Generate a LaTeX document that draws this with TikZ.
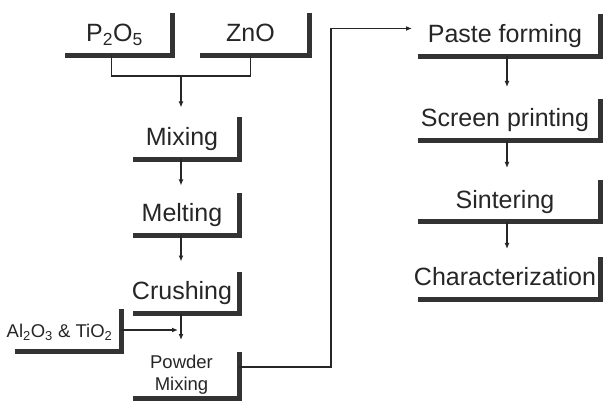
\documentclass[tikz,border=0pt]{standalone}
\usepackage{fontspec}
\setmainfont{Liberation Sans}
\usetikzlibrary{arrows.meta,calc}
\definecolor{BarGray}{HTML}{333333}
\definecolor{InkGray}{HTML}{262626}
\tikzset{>={Latex[length=6pt,width=5pt]}}
\begin{document}
\begin{tikzpicture}[x=1pt,y=-1pt,
 every node/.style={font=\fontsize{25}{28}\selectfont,text=InkGray},
 frame/.style={inner sep=0pt,outer sep=0pt},
 stepbox/.style={frame,text height=28pt,text depth=14pt,
  execute at begin node={\hspace*{-8pt}}},
 smallbox/.style={font=\fontsize{18.5}{22}\selectfont},
 bar/.style={draw=BarGray,line width=5pt,line join=miter},
 link/.style={draw=InkGray,line width=1.4pt}]
\useasboundingbox (0,0) rectangle (603,401);
% Raw materials and the glass route in the left column.
\node[stepbox,minimum width=107pt] (p2o5) at (118.5,34.5) {P\textsubscript{2}O\textsubscript{5}};
\node[stepbox,minimum width=109pt] (zno) at (254.5,34.5) {ZnO};
\node[stepbox,minimum width=106pt] (mixing) at (186,138.5) {Mixing};
\node[stepbox,minimum width=106pt] (melting) at (186,214.5) {Melting};
\node[stepbox,minimum width=106pt] (crushing) at (186,292.5) {Crushing};
\node[stepbox,smallbox,minimum width=106pt,
 execute at begin node={\hspace*{-9pt}}] (al2o3) at (68,330)
 {Al\textsubscript{2}O\textsubscript{3} \& TiO\textsubscript{2}};
\node[frame,smallbox,align=center,minimum width=106pt,minimum height=46pt]
 (powder) at (186,375) {\hspace*{-9pt}Powder\\\hspace*{-9pt}Mixing};
% Film processing in the right column.
\node[stepbox,minimum width=182pt] (paste) at (509,35.5) {Paste forming};
\node[stepbox,minimum width=182pt] (screen) at (509,120) {Screen printing};
\node[stepbox,minimum width=182pt] (sinter) at (509,201) {Sintering};
\node[stepbox,minimum width=182pt] (charact) at (509,278) {Characterization};
% Each step is underlined by a heavy L-shaped bar.
\foreach \n in {p2o5,zno,mixing,melting,crushing,al2o3,powder,paste,screen,sinter,charact}
 {\draw[bar] (\n.south west) -- (\n.south east) -- (\n.north east);}
\coordinate (merge) at (181,76);
\coordinate (join) at (178,329);
\coordinate (riser) at (331,200);
\draw[link] ([xshift=-7pt]p2o5.south) |- (merge) -| ([xshift=-4pt]zno.south);
\draw[link,->] (merge) -- ([xshift=-5pt,yshift=10pt]mixing.north);
\foreach \a/\b/\g in {mixing/melting/8,melting/crushing/10,crushing/powder/12}
 {\draw[link,->] ([xshift=-5pt]\a.south) -- ([xshift=-5pt,yshift=\g pt]\b.north);}
\foreach \a/\b/\g in {paste/screen/12,screen/sinter/12,sinter/charact/8}
 {\draw[link,->] ([xshift=-2pt]\a.south) -- ([xshift=-2pt,yshift=\g pt]\b.north);}
\draw[link,->] (al2o3.east) -- (al2o3.east -| join);
% The powder is carried over to the paste step.
\draw[link,->] ([yshift=8pt]powder.east) -| (riser)
 |- ([xshift=-6pt,yshift=7pt]paste.west);
\end{tikzpicture}
\end{document}
